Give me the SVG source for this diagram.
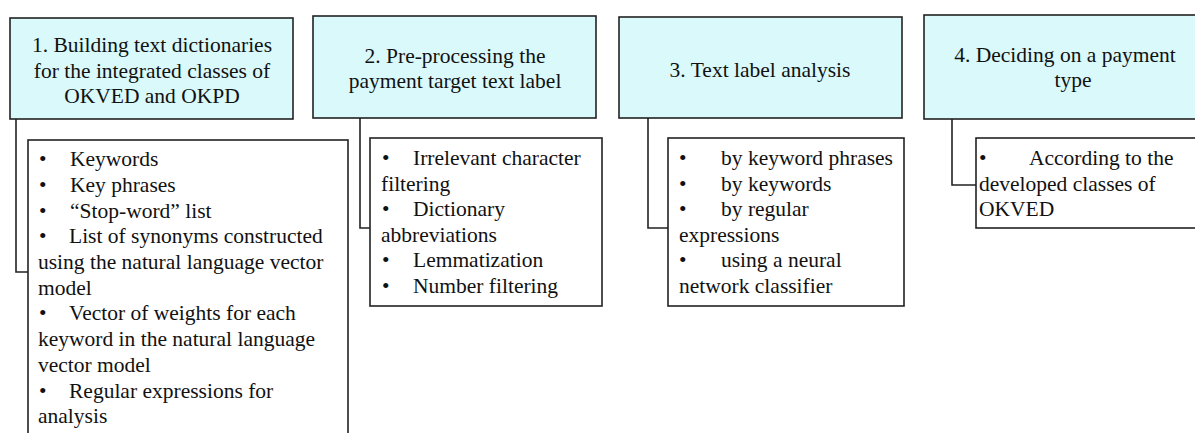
<svg xmlns="http://www.w3.org/2000/svg" width="1195" height="433" viewBox="0 0 1195 433">
<style>
  .main { fill: #daf9fb; stroke: #222; stroke-width: 1.6; }
  .sub { fill: #ffffff; stroke: #222; stroke-width: 1.6; }
  .conn { fill: none; stroke: #222; stroke-width: 1.6; }
  text { font-family: "Liberation Serif", "Times New Roman", serif; font-size: 21.5px; fill: #111; }
  .c { text-anchor: middle; }
</style>
<rect width="1195" height="433" fill="#ffffff"/>
<g id="connectors">
  <path class="conn" d="M16,119 V272 H28"/>
  <path class="conn" d="M360,118 V228 H370"/>
  <path class="conn" d="M648,118 V228 H668"/>
  <path class="conn" d="M952,119 V185 H976"/>
</g>
<g id="node1">
  <rect class="main" x="10" y="18" width="283" height="101"/>
  <text class="c" x="152" y="52">1. Building text dictionaries</text>
  <text class="c" x="152" y="77.5">for the integrated classes of</text>
  <text class="c" x="152" y="103">OKVED and OKPD</text>
</g>
<g id="node1-items">
  <rect class="sub" x="28" y="140" width="320" height="320"/>
  <text x="39" y="165.5">•</text><text x="70" y="165.5">Keywords</text>
  <text x="39" y="191.5">•</text><text x="70" y="191.5">Key phrases</text>
  <text x="39" y="217.5">•</text><text x="70" y="217.5">“Stop-word” list</text>
  <text x="39" y="243">•</text><text x="69" y="243">List of synonyms constructed</text>
  <text x="38" y="268.5">using the natural language vector</text>
  <text x="38" y="294.5">model</text>
  <text x="39" y="320">•</text><text x="69" y="320">Vector of weights for each</text>
  <text x="38" y="346">keyword in the natural language</text>
  <text x="38" y="372">vector model</text>
  <text x="39" y="397.5">•</text><text x="69" y="397.5">Regular expressions for</text>
  <text x="38" y="423">analysis</text>
</g>
<g id="node2">
  <rect class="main" x="313" y="16" width="283" height="102"/>
  <text class="c" x="455" y="63">2. Pre-processing the</text>
  <text class="c" x="455" y="88">payment target text label</text>
</g>
<g id="node2-items">
  <rect class="sub" x="370" y="138" width="232" height="168"/>
  <text x="382" y="165">•</text><text x="413" y="165">Irrelevant character</text>
  <text x="381" y="190.5">filtering</text>
  <text x="382" y="216">•</text><text x="413" y="216">Dictionary</text>
  <text x="381" y="241.5">abbreviations</text>
  <text x="382" y="267">•</text><text x="413" y="267">Lemmatization</text>
  <text x="382" y="292.5">•</text><text x="413" y="292.5">Number filtering</text>
</g>
<g id="node3">
  <rect class="main" x="619" y="17" width="283" height="101"/>
  <text class="c" x="760" y="77">3. Text label analysis</text>
</g>
<g id="node3-items">
  <rect class="sub" x="668" y="138" width="236" height="168"/>
  <text x="679" y="165">•</text><text x="721" y="165">by keyword phrases</text>
  <text x="679" y="190.5">•</text><text x="721" y="190.5">by keywords</text>
  <text x="679" y="216">•</text><text x="721" y="216">by regular</text>
  <text x="679" y="241.5">expressions</text>
  <text x="679" y="267">•</text><text x="721" y="267">using a neural</text>
  <text x="679" y="292.5">network classifier</text>
</g>
<g id="node4">
  <rect class="main" x="924" y="15" width="300" height="104"/>
  <text class="c" x="1065" y="62">4. Deciding on a payment</text>
  <text class="c" x="1073" y="87">type</text>
</g>
<g id="node4-items">
  <rect class="sub" x="976" y="138" width="240" height="90"/>
  <text x="979" y="165">•</text><text x="1029" y="165">According to the</text>
  <text x="979" y="190.5">developed classes of</text>
  <text x="979" y="216">OKVED</text>
</g>
</svg>
